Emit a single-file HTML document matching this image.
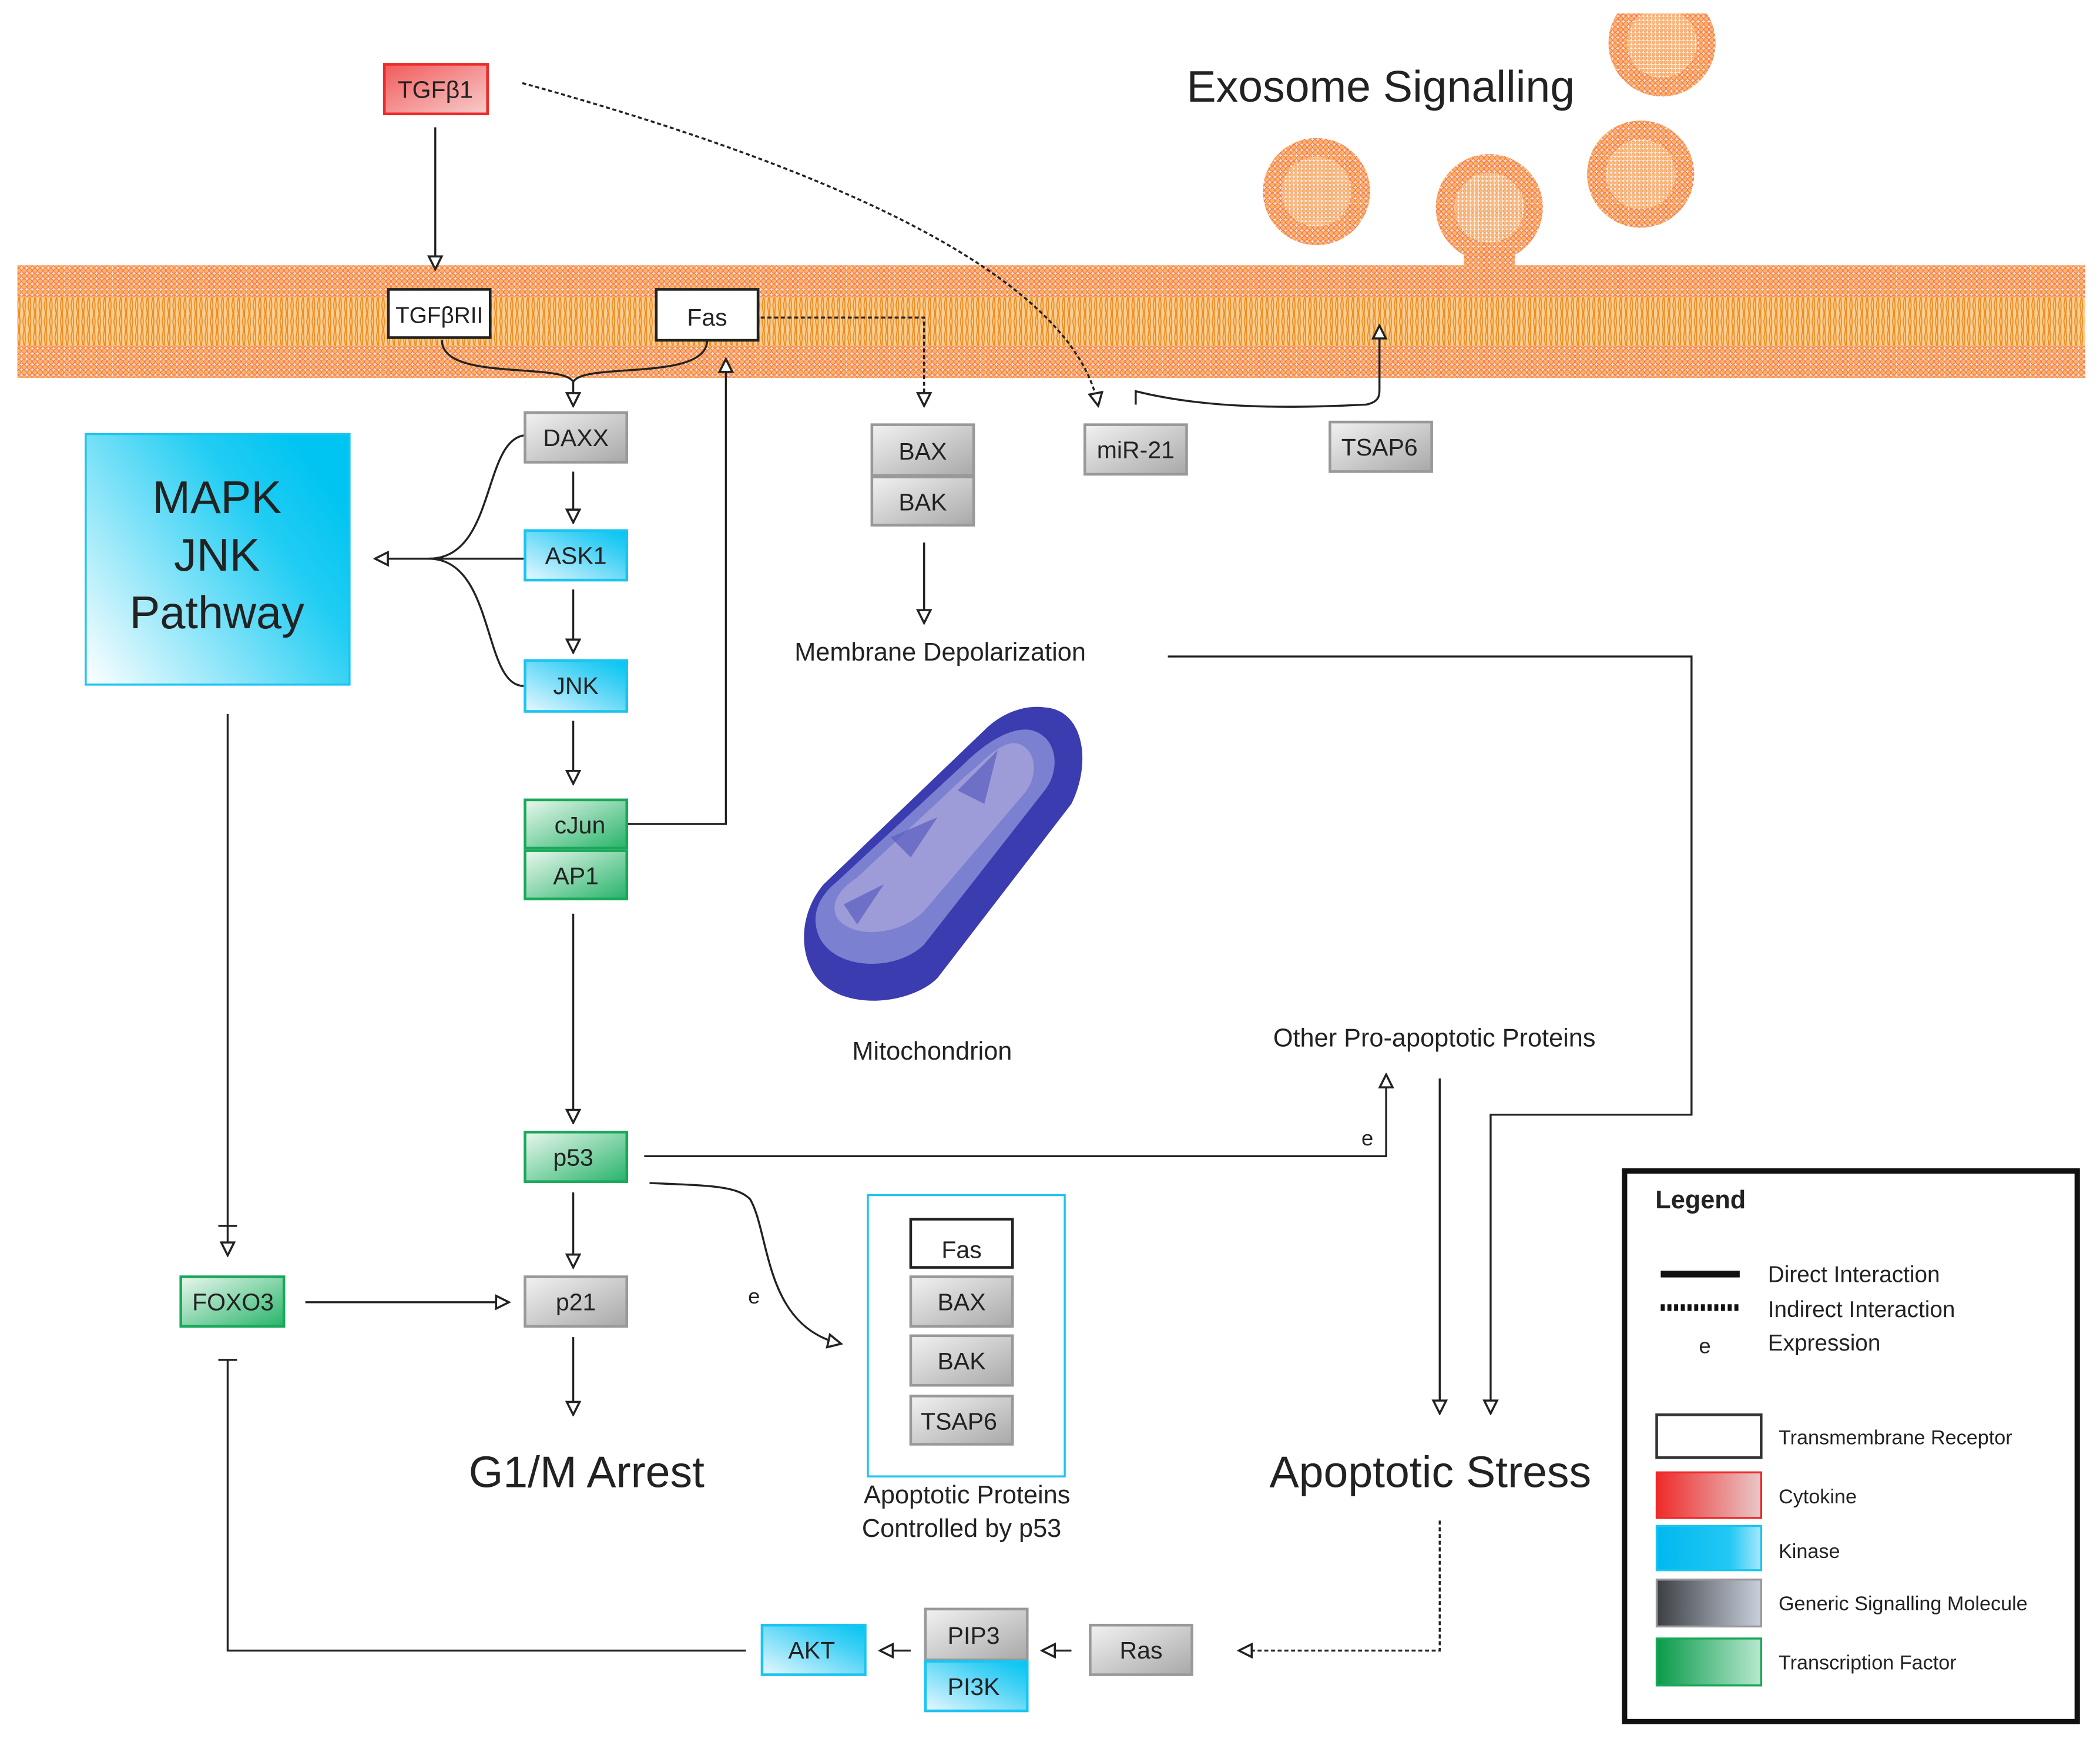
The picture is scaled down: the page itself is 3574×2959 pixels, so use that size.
<!DOCTYPE html>
<html><head><meta charset="utf-8"><style>
html,body{margin:0;padding:0;background:#fff;}
svg{display:block;}
text{font-family:"Liberation Sans",sans-serif;fill:#222;}
</style></head><body>
<svg width="3574" height="2959" viewBox="0 0 1568 1298" preserveAspectRatio="none" xmlns="http://www.w3.org/2000/svg">
<defs>
<linearGradient id="gGray" x1="0" y1="0" x2="1" y2="1"><stop offset="0" stop-color="#f2f2f2"/><stop offset="1" stop-color="#a8a8a8"/></linearGradient>
<linearGradient id="gBlue" x1="0" y1="1" x2="1" y2="0"><stop offset="0" stop-color="#e8f8ff"/><stop offset="0.7" stop-color="#3fd0f5"/><stop offset="1" stop-color="#00c4f2"/></linearGradient>
<linearGradient id="gGreen" x1="0" y1="0" x2="1" y2="1"><stop offset="0" stop-color="#eaf7ee"/><stop offset="1" stop-color="#27b46a"/></linearGradient>
<linearGradient id="gRed" x1="0" y1="0" x2="1" y2="1"><stop offset="0" stop-color="#f25a5a"/><stop offset="1" stop-color="#f7cccc"/></linearGradient>
<linearGradient id="gMapk" x1="0" y1="1" x2="1" y2="0.3"><stop offset="0" stop-color="#ffffff"/><stop offset="0.75" stop-color="#22cdf3"/><stop offset="1" stop-color="#00c4f2"/></linearGradient>
<linearGradient id="lBlue" x1="0" y1="0" x2="1" y2="0"><stop offset="0" stop-color="#00b8ef"/><stop offset="0.7" stop-color="#22c8f4"/><stop offset="1" stop-color="#a8e8fb"/></linearGradient>
<linearGradient id="lRed" x1="0" y1="0" x2="1" y2="0"><stop offset="0" stop-color="#ee2a2a"/><stop offset="1" stop-color="#e8c8c8"/></linearGradient>
<linearGradient id="lGray" x1="0" y1="0" x2="1" y2="0"><stop offset="0" stop-color="#3c3f44"/><stop offset="1" stop-color="#c8d0dc"/></linearGradient>
<linearGradient id="lGreen" x1="0" y1="0" x2="1" y2="0"><stop offset="0" stop-color="#0a9a4a"/><stop offset="1" stop-color="#b8e8d0"/></linearGradient>
<pattern id="heads" width="4" height="4" patternUnits="userSpaceOnUse"><rect width="4" height="4" fill="#fde3c8"/><circle cx="2" cy="2" r="1.8" fill="#fbb462" stroke="#f2604a" stroke-width="0.4"/></pattern>
<pattern id="inner" width="3" height="3" patternUnits="userSpaceOnUse"><rect width="3" height="3" fill="#fff2e2"/><circle cx="1.5" cy="1.5" r="1.2" fill="#fbc07a" stroke="#f08050" stroke-width="0.3"/></pattern>
<pattern id="tails" width="4" height="12" patternUnits="userSpaceOnUse"><rect width="4" height="12" fill="#fbcf92"/><path d="M1 0 L2 6 L1 12 M3 0 L2.5 6 L3 12" stroke="#ee8a20" stroke-width="0.8" fill="none"/></pattern>
<marker id="ah" viewBox="0 0 10 10" refX="9" refY="5" markerWidth="12" markerHeight="12" markerUnits="userSpaceOnUse" orient="auto"><path d="M1 1 L9 5 L1 9 Z" fill="#fff" stroke="#222" stroke-width="1.3"/></marker>
</defs>

<!-- membrane -->
<rect x="13" y="198" width="1544" height="84" fill="url(#tails)"/>
<rect x="13" y="198" width="1544" height="24" fill="url(#heads)"/>
<rect x="13" y="258" width="1544" height="24" fill="url(#heads)"/>

<!-- exosomes -->
<g fill="url(#heads)">
<circle cx="983" cy="143" r="40"/><circle cx="1112" cy="155" r="40"/><circle cx="1225" cy="130" r="40"/><circle cx="1241" cy="32" r="40"/>
<rect x="1093" y="180" width="38" height="40"/>
</g>
<g fill="url(#inner)"><circle cx="983" cy="143" r="26"/><circle cx="1112" cy="155" r="26"/><circle cx="1225" cy="130" r="26"/><circle cx="1241" cy="32" r="26"/></g>
<rect x="1195" y="0" width="95" height="10" fill="#fff"/>
<text x="886" y="76" font-size="33">Exosome Signalling</text>

<!-- mitochondrion -->
<path d="M780 528 C810 530 815 570 800 600 L700 730 C680 750 630 755 610 730 C595 710 598 680 615 660 L735 545 C748 532 765 526 780 528 Z" fill="#3a3cb0"/>
<path d="M770 545 C790 550 792 575 780 590 L690 705 C670 725 625 725 612 700 C605 685 610 670 625 658 L720 570 C735 555 755 542 770 545 Z" fill="#7b80d0"/>
<path d="M760 555 C775 560 775 580 765 592 L690 680 C670 700 635 700 625 685 C620 675 625 665 640 655 L720 580 C735 568 748 552 760 555 Z" fill="#9d9cd8"/>
<path d="M745 560 L735 600 L715 590 Z M700 610 L680 640 L665 625 Z M660 660 L640 690 L630 675 Z" fill="#5a5cc0" opacity="0.7"/>

<!-- lines -->
<g stroke="#222" stroke-width="1.5" fill="none">
<line x1="325" y1="95" x2="325" y2="201" marker-end="url(#ah)"/>
<path d="M330 254 C330 285 420 270 428 285 C436 270 528 285 528 254"/>
<line x1="428" y1="285" x2="428" y2="303" marker-end="url(#ah)"/>
<path d="M468 615 L542 615 L542 268" marker-end="url(#ah)"/>
<path d="M568 237 L690 237 L690 303" stroke-dasharray="3 2" marker-end="url(#ah)"/>
<path d="M390 62 C600 120 800 200 820 303" stroke-dasharray="3 2" marker-end="url(#ah)"/>
<path d="M848 302 L848 292 C900 305 960 305 1020 302 C1030 300 1030 295 1030 290 L1030 243" marker-end="url(#ah)"/>
<line x1="690" y1="405" x2="690" y2="465" marker-end="url(#ah)"/>
<path d="M872 490 L1263 490 L1263 832 L1113 832 L1113 1055" marker-end="url(#ah)"/>
<line x1="428" y1="352" x2="428" y2="390" marker-end="url(#ah)"/>
<line x1="428" y1="440" x2="428" y2="487" marker-end="url(#ah)"/>
<line x1="428" y1="538" x2="428" y2="585" marker-end="url(#ah)"/>
<line x1="428" y1="682" x2="428" y2="838" marker-end="url(#ah)"/>
<path d="M391 325 C360 330 370 417 320 417 C370 417 360 512 391 512"/>
<line x1="391" y1="417" x2="280" y2="417" marker-end="url(#ah)"/>
<line x1="170" y1="533" x2="170" y2="937" marker-end="url(#ah)"/>
<line x1="163" y1="915" x2="177" y2="915"/>
<line x1="228" y1="972" x2="380" y2="972" marker-end="url(#ah)"/>
<line x1="428" y1="890" x2="428" y2="946" marker-end="url(#ah)"/>
<line x1="428" y1="998" x2="428" y2="1056" marker-end="url(#ah)"/>
<path d="M481 863 L1035 863 L1035 802" marker-end="url(#ah)"/>
<path d="M485 883 C530 885 550 885 560 895 C575 920 570 990 628 1003" marker-end="url(#ah)"/>
<line x1="1075" y1="805" x2="1075" y2="1055" marker-end="url(#ah)"/>
<path d="M1075 1135 L1075 1232 L925 1232" stroke-dasharray="3 2" marker-end="url(#ah)"/>
<line x1="800" y1="1232" x2="778" y2="1232" marker-end="url(#ah)"/>
<line x1="680" y1="1232" x2="657" y2="1232" marker-end="url(#ah)"/>
<path d="M557 1232 L170 1232 L170 1015"/>
<line x1="163" y1="1015" x2="177" y2="1015"/>
</g>

<!-- MAPK -->
<rect x="64" y="324" width="197" height="187" fill="url(#gMapk)" stroke="#1cc4f0" stroke-width="1.5"/>
<g font-size="34" text-anchor="middle"><text x="162" y="383">MAPK</text><text x="162" y="426">JNK</text><text x="162" y="469">Pathway</text></g>

<!-- boxes -->
<g stroke-width="2">
<rect x="287" y="48" width="77" height="37" fill="url(#gRed)" stroke="#ee2a2a"/>
<rect x="290" y="216" width="76" height="36" fill="#fff" stroke="#222"/>
<rect x="490" y="216" width="76" height="38" fill="#fff" stroke="#222"/>
<rect x="392" y="308" width="76" height="37" fill="url(#gGray)" stroke="#999"/>
<rect x="392" y="396" width="76" height="37" fill="url(#gBlue)" stroke="#1cc4f0"/>
<rect x="392" y="493" width="76" height="38" fill="url(#gBlue)" stroke="#1cc4f0"/>
<rect x="392" y="597" width="76" height="36" fill="url(#gGreen)" stroke="#1aa85a"/>
<rect x="392" y="635" width="76" height="36" fill="url(#gGreen)" stroke="#1aa85a"/>
<rect x="651" y="317" width="76" height="38" fill="url(#gGray)" stroke="#999"/>
<rect x="651" y="356" width="76" height="36" fill="url(#gGray)" stroke="#999"/>
<rect x="810" y="317" width="76" height="37" fill="url(#gGray)" stroke="#999"/>
<rect x="993" y="315" width="76" height="37" fill="url(#gGray)" stroke="#999"/>
<rect x="392" y="845" width="76" height="37" fill="url(#gGreen)" stroke="#1aa85a"/>
<rect x="392" y="953" width="76" height="37" fill="url(#gGray)" stroke="#999"/>
<rect x="135" y="953" width="77" height="37" fill="url(#gGreen)" stroke="#1aa85a"/>
<rect x="648" y="892" width="147" height="210" fill="#fff" stroke="#1cc4f0" stroke-width="1.5"/>
<rect x="680" y="910" width="76" height="36" fill="#fff" stroke="#222"/>
<rect x="680" y="953" width="76" height="37" fill="url(#gGray)" stroke="#999"/>
<rect x="680" y="997" width="76" height="37" fill="url(#gGray)" stroke="#999"/>
<rect x="680" y="1042" width="76" height="36" fill="url(#gGray)" stroke="#999"/>
<rect x="814" y="1213" width="76" height="37" fill="url(#gGray)" stroke="#999"/>
<rect x="691" y="1201" width="76" height="38" fill="url(#gGray)" stroke="#999"/>
<rect x="691" y="1240" width="76" height="37" fill="url(#gBlue)" stroke="#1cc4f0"/>
<rect x="569" y="1213" width="77" height="37" fill="url(#gBlue)" stroke="#1cc4f0"/>
</g>
<g font-size="18" text-anchor="middle">
<text x="325" y="73">TGFβ1</text>
<text x="328" y="241" font-size="17">TGFβRII</text>
<text x="528" y="243">Fas</text>
<text x="430" y="333">DAXX</text>
<text x="430" y="421">ASK1</text>
<text x="430" y="518">JNK</text>
<text x="433" y="622">cJun</text>
<text x="430" y="660">AP1</text>
<text x="689" y="343">BAX</text>
<text x="689" y="381">BAK</text>
<text x="848" y="342">miR-21</text>
<text x="1030" y="340">TSAP6</text>
<text x="428" y="870">p53</text>
<text x="430" y="978">p21</text>
<text x="174" y="978">FOXO3</text>
<text x="718" y="939">Fas</text>
<text x="718" y="978">BAX</text>
<text x="718" y="1022">BAK</text>
<text x="716" y="1067">TSAP6</text>
<text x="852" y="1238">Ras</text>
<text x="727" y="1227">PIP3</text>
<text x="727" y="1265">PI3K</text>
<text x="606" y="1238">AKT</text>
</g>
<g font-size="19" text-anchor="middle">
<text x="702" y="493">Membrane Depolarization</text>
<text x="696" y="791">Mitochondrion</text>
<text x="1071" y="781">Other Pro-apoptotic Proteins</text>
<text x="722" y="1122">Apoptotic Proteins</text>
<text x="718" y="1147">Controlled by p53</text>
<text x="1021" y="855" font-size="16">e</text>
<text x="563" y="973" font-size="16">e</text>
</g>
<text x="438" y="1110" font-size="33" text-anchor="middle">G1/M Arrest</text>
<text x="1068" y="1110" font-size="33" text-anchor="middle">Apoptotic Stress</text>

<!-- legend -->
<rect x="1213" y="874" width="338" height="411" fill="#fff" stroke="#111" stroke-width="4"/>
<text x="1236" y="902" font-size="19" font-weight="bold">Legend</text>
<line x1="1240" y1="951" x2="1299" y2="951" stroke="#111" stroke-width="5"/>
<line x1="1240" y1="976" x2="1299" y2="976" stroke="#111" stroke-width="5" stroke-dasharray="3 2"/>
<text x="1273" y="1010" font-size="16" text-anchor="middle">e</text>
<g font-size="17"><text x="1320" y="957">Direct Interaction</text><text x="1320" y="983">Indirect Interaction</text><text x="1320" y="1008">Expression</text></g>
<rect x="1237" y="1056" width="78" height="32" fill="#fff" stroke="#333" stroke-width="2"/>
<rect x="1237" y="1099" width="78" height="34" fill="url(#lRed)" stroke="#ee2a2a" stroke-width="1.5"/>
<rect x="1237" y="1139" width="78" height="33" fill="url(#lBlue)" stroke="#1cc4f0" stroke-width="1.5"/>
<rect x="1237" y="1179" width="78" height="35" fill="url(#lGray)" stroke="#999" stroke-width="1.5"/>
<rect x="1237" y="1223" width="78" height="35" fill="url(#lGreen)" stroke="#1aa85a" stroke-width="1.5"/>
<g font-size="15"><text x="1328" y="1078">Transmembrane Receptor</text><text x="1328" y="1122">Cytokine</text><text x="1328" y="1163">Kinase</text><text x="1328" y="1202">Generic Signalling Molecule</text><text x="1328" y="1246">Transcription Factor</text></g>
</svg>
</body></html>
